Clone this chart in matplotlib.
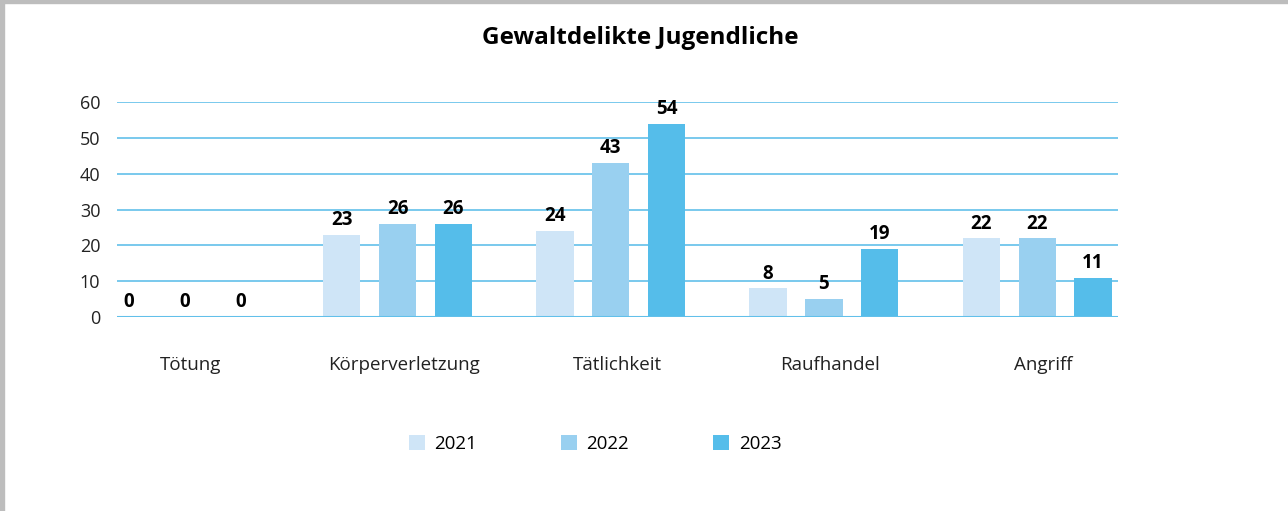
import matplotlib.pyplot as plt
from matplotlib.patches import Rectangle
import numpy as np

plt.rcParams['font.family'] = ['Open Sans', 'DejaVu Sans']

kategorien = ['Tötung', 'Körperverletzung', 'Tätlichkeit', 'Raufhandel', 'Angriff']
jahre = ['2021', '2022', '2023']
werte_2021 = [0, 23, 24, 8, 22]
werte_2022 = [0, 26, 43, 5, 22]
werte_2023 = [0, 26, 54, 19, 11]
farben = ['#cfe5f7', '#99d0f0', '#55bdea']

fig = plt.figure(figsize=(12.88, 5.11), dpi=100)
ax = fig.add_axes([0.0908, 0.3796, 0.777, 0.4207])

x = np.arange(len(kategorien))
breite = 0.175
abstand = 0.262
serien = [werte_2021, werte_2022, werte_2023]

# Gitternetz
ax.set_axisbelow(True)
ax.yaxis.grid(True, color='#62c0ea', linewidth=1.2)
for s in ax.spines.values():
    s.set_visible(False)

balken = []
for i, (werte, farbe, jahr) in enumerate(zip(serien, farben, jahre)):
    pos = x + (i - 1) * abstand
    b = ax.bar(pos, werte, width=breite, color=farbe, label=jahr, zorder=2)
    balken.append(b)
    for px, v in zip(pos, werte):
        ax.text(px, v + 1.3, str(v), ha='center', va='bottom',
                fontsize=13.5, fontweight='bold', color='black')

ax.axhline(0, color='#62c0ea', linewidth=1.5, zorder=3)

ax.set_ylim(0, 60)
ax.set_xlim(-0.317, 4.378)
ax.set_yticks(range(0, 61, 10))
ax.tick_params(axis='y', length=0, labelsize=13, pad=12, labelcolor='#222222')
ax.set_xticks(x + 0.03)
ax.set_xticklabels(kategorien)
ax.tick_params(axis='x', length=0, labelsize=13.5, pad=28, labelcolor='#222222')

fig.text(0.497, 0.925, 'Gewaltdelikte Jugendliche', ha='center', va='center',
         fontsize=17.5, fontweight='bold')

fig.legend(handles=balken, labels=jahre, loc='center', bbox_to_anchor=(0.462, 0.131),
           ncol=3, frameon=False, fontsize=13.5, handlelength=0.85, handleheight=0.85,
           handletextpad=0.5, columnspacing=4.5)

# grauer Rahmen links und oben
fig.patches.append(Rectangle((0, 0), 4 / 1288, 1, transform=fig.transFigure,
                             color='#bdbdbd', zorder=10))
fig.patches.append(Rectangle((0, 1 - 3 / 511), 1, 3 / 511, transform=fig.transFigure,
                             color='#bdbdbd', zorder=10))

fig.savefig('out.png', dpi=100)
